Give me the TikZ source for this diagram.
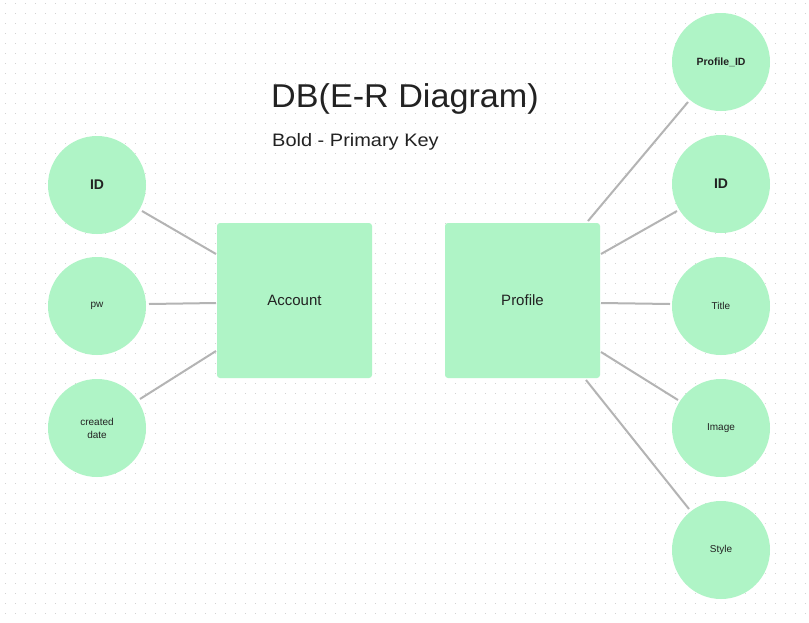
\documentclass[tikz,border=0pt]{standalone}
\usepackage{fontspec}
\setmainfont{Liberation Sans}
\definecolor{ergreen}{HTML}{AFF4C6}
\definecolor{erline}{HTML}{B4B4B4}
\definecolor{ertext}{HTML}{222222}
\definecolor{erdot}{HTML}{D2D2D2}
\begin{document}
\begin{tikzpicture}[x=1pt,y=-1pt,
  attr/.style={circle,fill=ergreen,minimum size=98pt,inner sep=0pt,text=ertext,font=\fontsize{10}{13}\selectfont,align=center},
  keyattr/.style={attr,font=\fontsize{14}{16}\bfseries},
  smallkey/.style={attr,font=\fontsize{10.5}{13}\bfseries},
  entity/.style={rectangle,rounded corners=3pt,fill=ergreen,minimum width=155pt,minimum height=155pt,inner sep=0pt,text=ertext,font=\fontsize{15}{18}\selectfont},
  conn/.style={draw=erline,line width=2pt}]
\useasboundingbox (0,0) rectangle (809,622);
\fill[white] (0,0) rectangle (809,622);
\foreach \i in {0,...,80}{
  \foreach \j in {0,...,62}{
    \fill[erdot] ({4.5+10*\i},{2.8+10*\j}) rectangle ++(1.2,1.2);
  }
}
\node[anchor=base west,text=ertext,font=\fontsize{33}{36}\selectfont,inner sep=0pt] (title) at (271,107) {\scalebox{1.035}[1]{DB(E-R Diagram)}};
\node[anchor=base west,text=ertext,font=\fontsize{18}{21}\selectfont,inner sep=0pt] (sub) at (272,146) {\scalebox{1.11}[1]{Bold - Primary Key}};

\node[entity] (acc) at (294.5,300.5) {Account};
\node[entity] (prof) at (522.5,300.5) {Profile};

\node[keyattr] (lid) at (97,185) {ID};
\node[attr] (pw) at (97,306) {pw};
\node[attr] (cd) at (97,428) {created\\date};

\node[smallkey] (pid) at (721,62) {Profile\_ID};
\node[keyattr] (rid) at (721,184) {ID};
\node[attr] (tit) at (721,306) {Title};
\node[attr] (img) at (721,428) {Image};
\node[attr] (sty) at (721,550) {Style};

\coordinate (a1) at (216,254);
\coordinate (a2) at (216,303);
\coordinate (a3) at (216,351);
\coordinate (l1) at (142,211);
\coordinate (l2) at (149,304);
\coordinate (l3) at (140,399);
\draw[conn] (l1) -- (a1);
\draw[conn] (l2) -- (a2);
\draw[conn] (l3) -- (a3);

\coordinate (p1) at (588,221);
\coordinate (p2) at (601,254);
\coordinate (p3) at (601,303);
\coordinate (p4) at (601,352);
\coordinate (p5) at (586,380);
\coordinate (r1) at (688,102);
\coordinate (r2) at (677,211);
\coordinate (r3) at (670,304);
\coordinate (r4) at (678,400);
\coordinate (r5) at (689,509);
\draw[conn] (p1) -- (r1);
\draw[conn] (p2) -- (r2);
\draw[conn] (p3) -- (r3);
\draw[conn] (p4) -- (r4);
\draw[conn] (p5) -- (r5);
\end{tikzpicture}
\end{document}
